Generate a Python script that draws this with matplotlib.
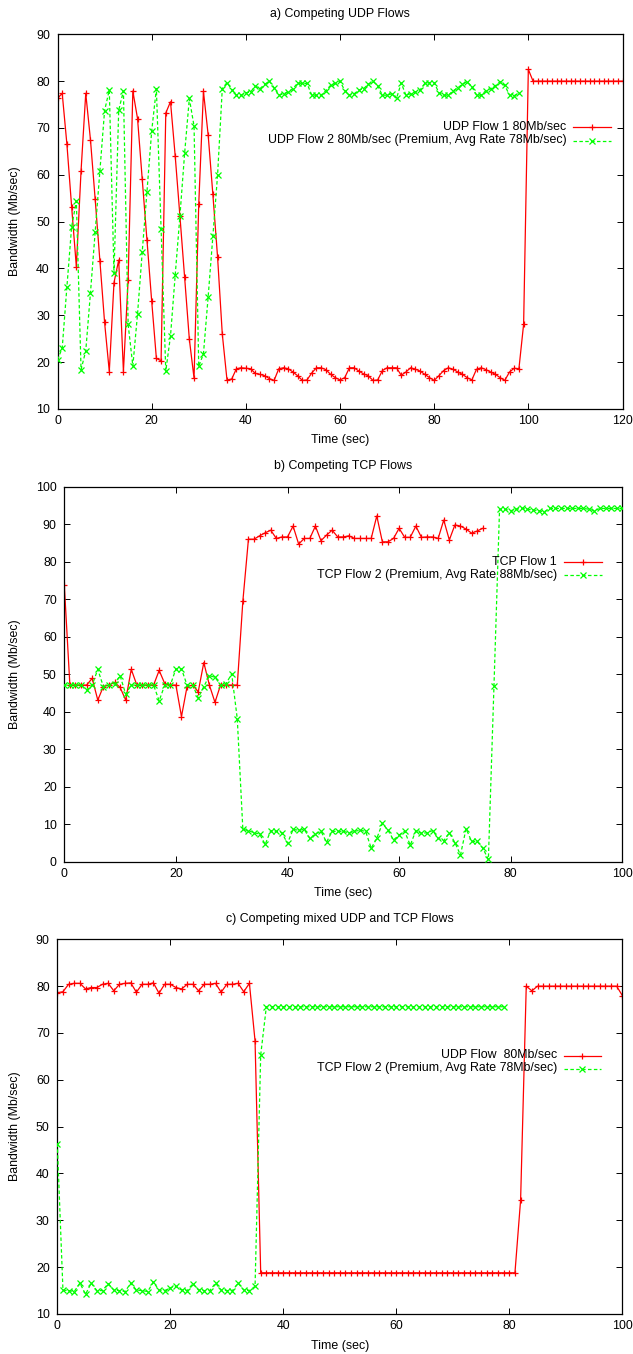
import matplotlib
matplotlib.use("Agg")
import matplotlib.pyplot as plt
from matplotlib.lines import Line2D

plt.rcParams['font.family'] = ['Liberation Sans', 'DejaVu Sans']

# ---------------- data ----------------
# Panel a) Competing UDP Flows (one sample per second)
udp1_a = [76.3, 77.4, 66.5, 53.2, 40.4, 60.8, 77.4, 67.5, 54.8, 41.7,
          28.5, 18.0, 37.0, 41.8, 18.0, 37.5, 77.9, 72.0, 59.0, 46.1,
          33.1, 20.8, 20.3, 73.2, 75.6, 64.0, 51.2, 38.1, 24.9, 16.6,
          53.8, 77.8, 68.5, 55.8, 42.4, 26.0, 16.2, 16.4, 18.6, 18.8,
          18.7, 18.6, 17.6, 17.4, 17.1, 16.5, 16.1, 18.6, 18.8, 18.6,
          17.9, 17.1, 16.1, 16.2, 17.7, 18.8, 18.8, 18.4, 17.4, 16.7,
          16.2, 16.7, 18.8, 18.8, 18.1, 17.5, 17.1, 16.1, 16.2, 18.2,
          18.8, 18.8, 18.8, 17.2, 17.9, 18.8, 18.5, 18.1, 17.4, 16.7,
          16.1, 17.1, 18.2, 18.8, 18.5, 17.9, 17.4, 16.7, 16.2, 18.5,
          18.8, 18.4, 17.9, 17.4, 16.7, 16.1, 17.9, 18.7, 18.6, 28.1,
          82.5, 80.0, 80.0, 80.0, 80.0, 80.0, 80.0, 80.0, 80.0, 80.0,
          80.0, 80.0, 80.0, 80.0, 80.0, 80.0, 80.0, 80.0, 80.0, 80.0,
          80.0]
udp2_a = [20.5, 23.0, 36.1, 48.9, 54.4, 18.4, 22.4, 34.8, 47.8, 60.8,
          73.7, 78.1, 39.0, 73.8, 77.9, 28.1, 19.2, 30.3, 43.6, 56.4,
          69.3, 78.4, 48.5, 18.1, 25.6, 38.6, 51.2, 64.6, 76.3, 70.4,
          19.1, 21.8, 34.0, 46.9, 60.0, 78.4, 79.7, 78.2, 77.0, 77.0,
          77.5, 77.7, 78.9, 78.4, 79.3, 80.0, 78.6, 77.0, 77.3, 77.7,
          78.4, 79.6, 79.5, 79.5, 77.0, 77.0, 77.0, 78.0, 79.1, 79.5,
          80.0, 78.0, 77.0, 77.3, 78.1, 78.4, 79.3, 80.0, 79.0, 77.0,
          77.0, 77.3, 76.3, 79.6, 77.0, 77.3, 77.7, 78.1, 79.5, 79.7,
          79.7, 77.5, 77.0, 77.0, 77.9, 78.6, 79.3, 79.9, 78.8, 77.0,
          77.0, 78.0, 78.4, 79.0, 79.9, 79.1, 77.0, 76.9, 77.5]

# Panel b) Competing TCP Flows
tcp1_b = [73.8, 47.1, 47.1, 47.1, 47.1, 48.9, 43.1, 46.7, 47.1, 47.8,
          46.5, 43.1, 51.3, 47.1, 47.1, 47.1, 47.1, 51.0, 47.5, 47.1,
          47.1, 38.7, 46.7, 47.1, 45.3, 53.1, 47.1, 42.5, 47.1, 47.1,
          47.1, 47.1, 69.5, 86.0, 86.0, 86.9, 87.7, 88.4, 86.2, 86.6,
          86.6, 89.5, 84.7, 86.2, 86.2, 89.5, 85.6, 87.1, 88.4, 86.6,
          86.6, 86.9, 86.2, 86.2, 86.2, 86.2, 92.2, 85.3, 85.3, 86.2,
          88.9, 86.5, 86.5, 89.5, 86.5, 86.6, 86.6, 86.2, 91.1, 85.8,
          89.8, 89.5, 88.7, 87.6, 88.2, 88.9]
tcp2_b = [47.1, 47.1, 47.1, 47.1, 45.8, 47.1, 51.3, 46.7, 47.1, 47.5,
          49.6, 44.7, 47.1, 47.1, 47.1, 47.1, 47.1, 42.9, 47.1, 47.1,
          51.4, 51.4, 47.1, 47.1, 43.7, 46.7, 49.6, 49.2, 47.1, 47.5,
          50.1, 38.1, 8.6, 8.3, 7.7, 7.4, 4.6, 8.3, 8.1, 7.7,
          4.9, 8.6, 8.4, 8.6, 6.2, 7.4, 8.1, 5.2, 8.1, 8.1,
          8.1, 7.7, 8.1, 8.4, 8.1, 3.6, 6.2, 10.2, 8.4, 5.8,
          7.1, 8.1, 4.4, 8.3, 7.6, 7.7, 8.3, 6.2, 5.6, 7.7,
          5.1, 1.8, 8.8, 5.4, 5.4, 3.6, 0.6, 46.8, 94.0, 94.0,
          93.6, 94.0, 94.2, 94.0, 93.8, 93.6, 93.3, 94.2, 94.2, 94.2,
          94.2, 94.2, 94.2, 94.2, 94.0, 93.6, 94.2, 94.2, 94.2, 94.2,
          94.2]

# Panel c) Competing mixed UDP and TCP Flows
udp_c = [78.6, 78.8, 80.4, 80.6, 80.6, 79.4, 79.7, 79.7, 80.4, 80.6,
         79.0, 80.4, 80.6, 80.7, 78.7, 80.4, 80.4, 80.7, 78.5, 80.4,
         80.4, 79.7, 79.4, 80.4, 80.4, 79.0, 80.4, 80.4, 80.6, 78.7,
         80.4, 80.4, 80.6, 78.8, 80.6, 68.3, 18.8, 18.8, 18.8, 18.8,
         18.8, 18.8, 18.8, 18.8, 18.8, 18.8, 18.8, 18.8, 18.8, 18.8,
         18.8, 18.8, 18.8, 18.8, 18.8, 18.8, 18.8, 18.8, 18.8, 18.8,
         18.8, 18.8, 18.8, 18.8, 18.8, 18.8, 18.8, 18.8, 18.8, 18.8,
         18.8, 18.8, 18.8, 18.8, 18.8, 18.8, 18.8, 18.8, 18.8, 18.8,
         18.8, 18.8, 34.3, 80.0, 79.0, 80.0, 80.0, 80.0, 80.0, 80.0,
         80.0, 80.0, 80.0, 80.0, 80.0, 80.0, 80.0, 80.0, 80.0, 80.0,
         78.0]
tcp2_c = [46.4, 15.1, 15.0, 14.8, 16.6, 14.2, 16.6, 15.0, 15.0, 16.5,
          15.1, 15.0, 14.8, 16.6, 15.1, 15.0, 14.8, 16.8, 15.1, 15.0,
          15.6, 15.9, 15.1, 15.0, 16.5, 15.1, 15.0, 15.0, 16.6, 15.1,
          15.0, 15.0, 16.6, 15.1, 15.0, 15.9, 65.3, 75.6, 75.6, 75.6,
          75.6, 75.6, 75.6, 75.6, 75.6, 75.6, 75.6, 75.6, 75.6, 75.6,
          75.6, 75.6, 75.6, 75.6, 75.6, 75.6, 75.6, 75.6, 75.6, 75.6,
          75.6, 75.6, 75.6, 75.6, 75.6, 75.6, 75.6, 75.6, 75.6, 75.6,
          75.6, 75.6, 75.6, 75.6, 75.6, 75.6, 75.6, 75.6, 75.6, 75.6]

titles = ["a) Competing UDP Flows", "b) Competing TCP Flows",
          "c) Competing mixed UDP and TCP Flows"]
labels_a = ["UDP Flow 1 80Mb/sec", "UDP Flow 2 80Mb/sec (Premium, Avg Rate 78Mb/sec)"]
labels_b = ["TCP Flow 1", "TCP Flow 2 (Premium, Avg Rate 88Mb/sec)"]
labels_c = ["UDP Flow  80Mb/sec", "TCP Flow 2 (Premium, Avg Rate 78Mb/sec)"]
xlabel = "Time (sec)"
ylabel = "Bandwidth (Mb/sec)"

# ---------------- styling / layout ----------------
W, H = 633, 1354
FS = 8.9
RED = '#ff0000'
GREEN = '#00ff00'

fig = plt.figure(figsize=(W / 100, H / 100), dpi=100)
fig.patch.set_facecolor('white')


def add_axes(left, right, top, bottom):
    return fig.add_axes([left / W, 1 - bottom / H, (right - left) / W, (bottom - top) / H])


def fx(x):
    return x / W


def fy(y):
    return 1 - y / H


red_style = dict(color=RED, lw=0.9, marker='+', ms=5, mew=0.9)
green_style = dict(color=GREEN, lw=0.9, ls=(0, (2.8, 1.9)), marker='x', ms=4.2, mew=0.9)


def style_axes(ax, xlim, xticks, ylim, yticks, top_px, bottom_px, title):
    ax.set_xlim(*xlim)
    ax.set_ylim(*ylim)
    ax.set_xticks(xticks)
    ax.set_yticks(yticks)
    ax.tick_params(direction='in', length=4.3, width=0.7, top=True, right=True,
                   labelsize=FS, colors='black', pad=4.5)
    ax.tick_params(axis='y', pad=5.5)
    for s in ax.spines.values():
        s.set_linewidth(0.9)
        s.set_color('black')
    h = bottom_px - top_px
    ax.set_xlabel(xlabel, fontsize=FS, va='center')
    ax.xaxis.set_label_coords(0.5, -31.5 / h)
    ax.text(0.5, 1 + 20.5 / h, title, transform=ax.transAxes, ha='center',
            va='center', fontsize=FS)


def legend(labels, x_text, x1, x2, y1, y2):
    for lab, y, st in ((labels[0], y1, red_style), (labels[1], y2, green_style)):
        fig.text(fx(x_text), fy(y), lab, ha='right', va='center', fontsize=FS)
        ls = st.get('ls', '-')
        fig.add_artist(Line2D([fx(x1), fx(x2)], [fy(y), fy(y)], transform=fig.transFigure,
                              color=st['color'], lw=st['lw'], ls=ls))
        fig.add_artist(Line2D([fx((x1 + x2) / 2)], [fy(y)], transform=fig.transFigure,
                              color=st['color'], marker=st['marker'], ms=st['ms'],
                              mew=st['mew'], ls='none'))


# Panel a
ax1 = add_axes(57.5, 622.5, 34.3, 409.0)
ax1.plot(list(range(len(udp1_a))), udp1_a, **red_style, zorder=2)
ax1.plot(list(range(len(udp2_a))), udp2_a, **green_style, zorder=3)
style_axes(ax1, (0, 120), range(0, 121, 20), (10, 90), range(10, 91, 10), 34.3, 409.0, titles[0])
ax1.set_ylabel(ylabel, fontsize=FS, va='center')
ax1.yaxis.set_label_coords((15 - 57.5) / 565.0, 0.5)
legend(labels_a, 566.5, 573.0, 610.5, 127.3, 140.5)

# Panel b
ax2 = add_axes(64.3, 622.3, 486.7, 861.7)
ax2.plot(list(range(len(tcp1_b))), tcp1_b, **red_style, zorder=2)
ax2.plot(list(range(len(tcp2_b))), tcp2_b, **green_style, zorder=3)
style_axes(ax2, (0, 100), range(0, 101, 20), (0, 100), range(0, 101, 10), 486.7, 861.7, titles[1])
ax2.set_ylabel(ylabel, fontsize=FS, va='center')
ax2.yaxis.set_label_coords((15 - 64.3) / 558.0, 0.5)
legend(labels_b, 557.0, 564.0, 601.5, 562.0, 575.0)

# Panel c
ax3 = add_axes(57.3, 622.3, 939.3, 1314.0)
ax3.plot(list(range(len(udp_c))), udp_c, **red_style, zorder=2)
ax3.plot(list(range(len(tcp2_c))), tcp2_c, **green_style, zorder=3)
style_axes(ax3, (0, 100), range(0, 101, 20), (10, 90), range(10, 91, 10), 939.3, 1314.0, titles[2])
ax3.set_ylabel(ylabel, fontsize=FS, va='center')
ax3.yaxis.set_label_coords((15 - 57.3) / 565.0, 0.5)
legend(labels_c, 557.5, 563.5, 601.0, 1055.5, 1068.5)

fig.savefig("out.png", dpi=100, facecolor='white')
